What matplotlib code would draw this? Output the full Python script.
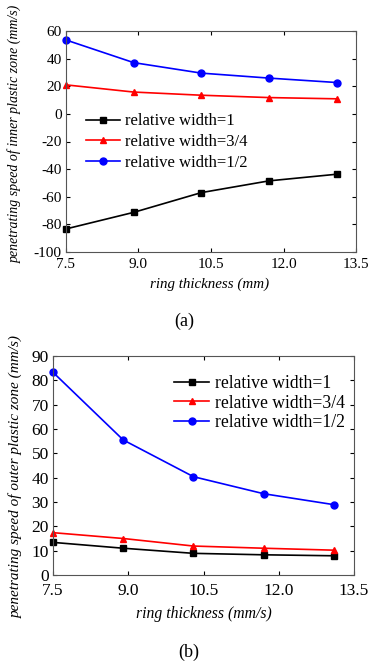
import matplotlib
matplotlib.use("Agg")
import matplotlib.pyplot as plt

plt.rcParams['font.family'] = ['Liberation Serif', 'DejaVu Serif']
plt.rcParams['axes.unicode_minus'] = False

thickness = [7.5, 8.9, 10.3, 11.7, 13.1]
labels = ["relative width=1", "relative width=3/4", "relative width=1/2"]

inner_w1 = [-83.3, -71.3, -57.0, -48.5, -43.7]
inner_w34 = [21.0, 15.8, 13.5, 11.8, 10.9]
inner_w12 = [53.5, 37.1, 29.5, 25.9, 22.7]

outer_w1 = [13.4, 11.0, 8.9, 8.3, 7.9]
outer_w34 = [17.4, 15.0, 11.9, 11.0, 10.2]
outer_w12 = [83.3, 55.5, 40.4, 33.4, 28.9]

xticks = [7.5, 9.0, 10.5, 12.0, 13.5]
yticks_a = [-100, -80, -60, -40, -20, 0, 20, 40, 60]
yticks_b = [0, 10, 20, 30, 40, 50, 60, 70, 80, 90]

colors = ['black', 'red', 'blue']
markers = ['s', '^', 'o']

W, H = 371, 667
fig = plt.figure(figsize=(W / 100, H / 100), dpi=100)
ax1 = fig.add_axes([66 / W, 1 - 252 / H, 290 / W, 221 / H])
ax2 = fig.add_axes([53 / W, 1 - 575 / H, 301 / W, 219 / H])

def style(ax, fs, xpad):
    ax.tick_params(direction='in', top=True, right=True, labelsize=fs, length=3, width=0.8)
    ax.tick_params(axis='x', pad=xpad)
    ax.tick_params(axis='y', pad=3)
    for s in ax.spines.values():
        s.set_color('#555555')
        s.set_linewidth(0.8)

for ys, c, m, lab in zip([inner_w1, inner_w34, inner_w12], colors, markers, labels):
    ax1.plot(thickness, ys, color=c, marker=m, markersize=5, linewidth=1.2, label=lab, clip_on=False)
ax1.set_xlim(7.5, 13.5)
ax1.set_ylim(-100, 60)
ax1.set_xticks(xticks)
ax1.set_xticklabels(['%.1f' % v for v in xticks])
ax1.set_yticks(yticks_a)
style(ax1, 11, 4.5)
ax1.set_xlabel('ring thickness (mm)', fontsize=10.8, style='italic')
ax1.xaxis.set_label_coords((210 - 66) / 290, -(278 - 252) / 221)
ax1.set_ylabel('penetrating speed of inner plastic zone (mm/s)', fontsize=10, style='italic')
ax1.yaxis.set_label_coords(-(66 - 22) / 290, (252 - 134) / 221)
ax1.legend(loc='upper left', bbox_to_anchor=(0.03, 0.68), frameon=False, fontsize=12,
           handlelength=2.0, handletextpad=0.3, labelspacing=0.28, borderpad=0.2)

for ys, c, m, lab in zip([outer_w1, outer_w34, outer_w12], colors, markers, labels):
    ax2.plot(thickness, ys, color=c, marker=m, markersize=5, linewidth=1.2, label=lab, clip_on=False)
ax2.set_xlim(7.5, 13.5)
ax2.set_ylim(0, 90)
ax2.set_xticks(xticks)
ax2.set_xticklabels(['%.1f' % v for v in xticks])
ax2.set_yticks(yticks_b)
style(ax2, 12.5, 6)
ax2.set_xlabel('ring thickness (mm/s)', fontsize=11.3, style='italic')
ax2.xaxis.set_label_coords((204 - 53) / 301, -(606 - 575) / 219)
ax2.set_ylabel('penetrating speed of outer plastic zone (mm/s)', fontsize=11, style='italic')
ax2.yaxis.set_label_coords(-(53 - 23) / 301, (575 - 476) / 219)
ax2.legend(loc='upper right', bbox_to_anchor=(1.01, 0.97), frameon=False, fontsize=12.7,
           handlelength=2.0, handletextpad=0.3, labelspacing=0.15, borderpad=0.2)

fig.text(184 / W, 1 - 321 / H, '(a)', ha='center', va='center', fontsize=13)
fig.text(189 / W, 1 - 652 / H, '(b)', ha='center', va='center', fontsize=13)

fig.savefig('out.png', dpi=100)
